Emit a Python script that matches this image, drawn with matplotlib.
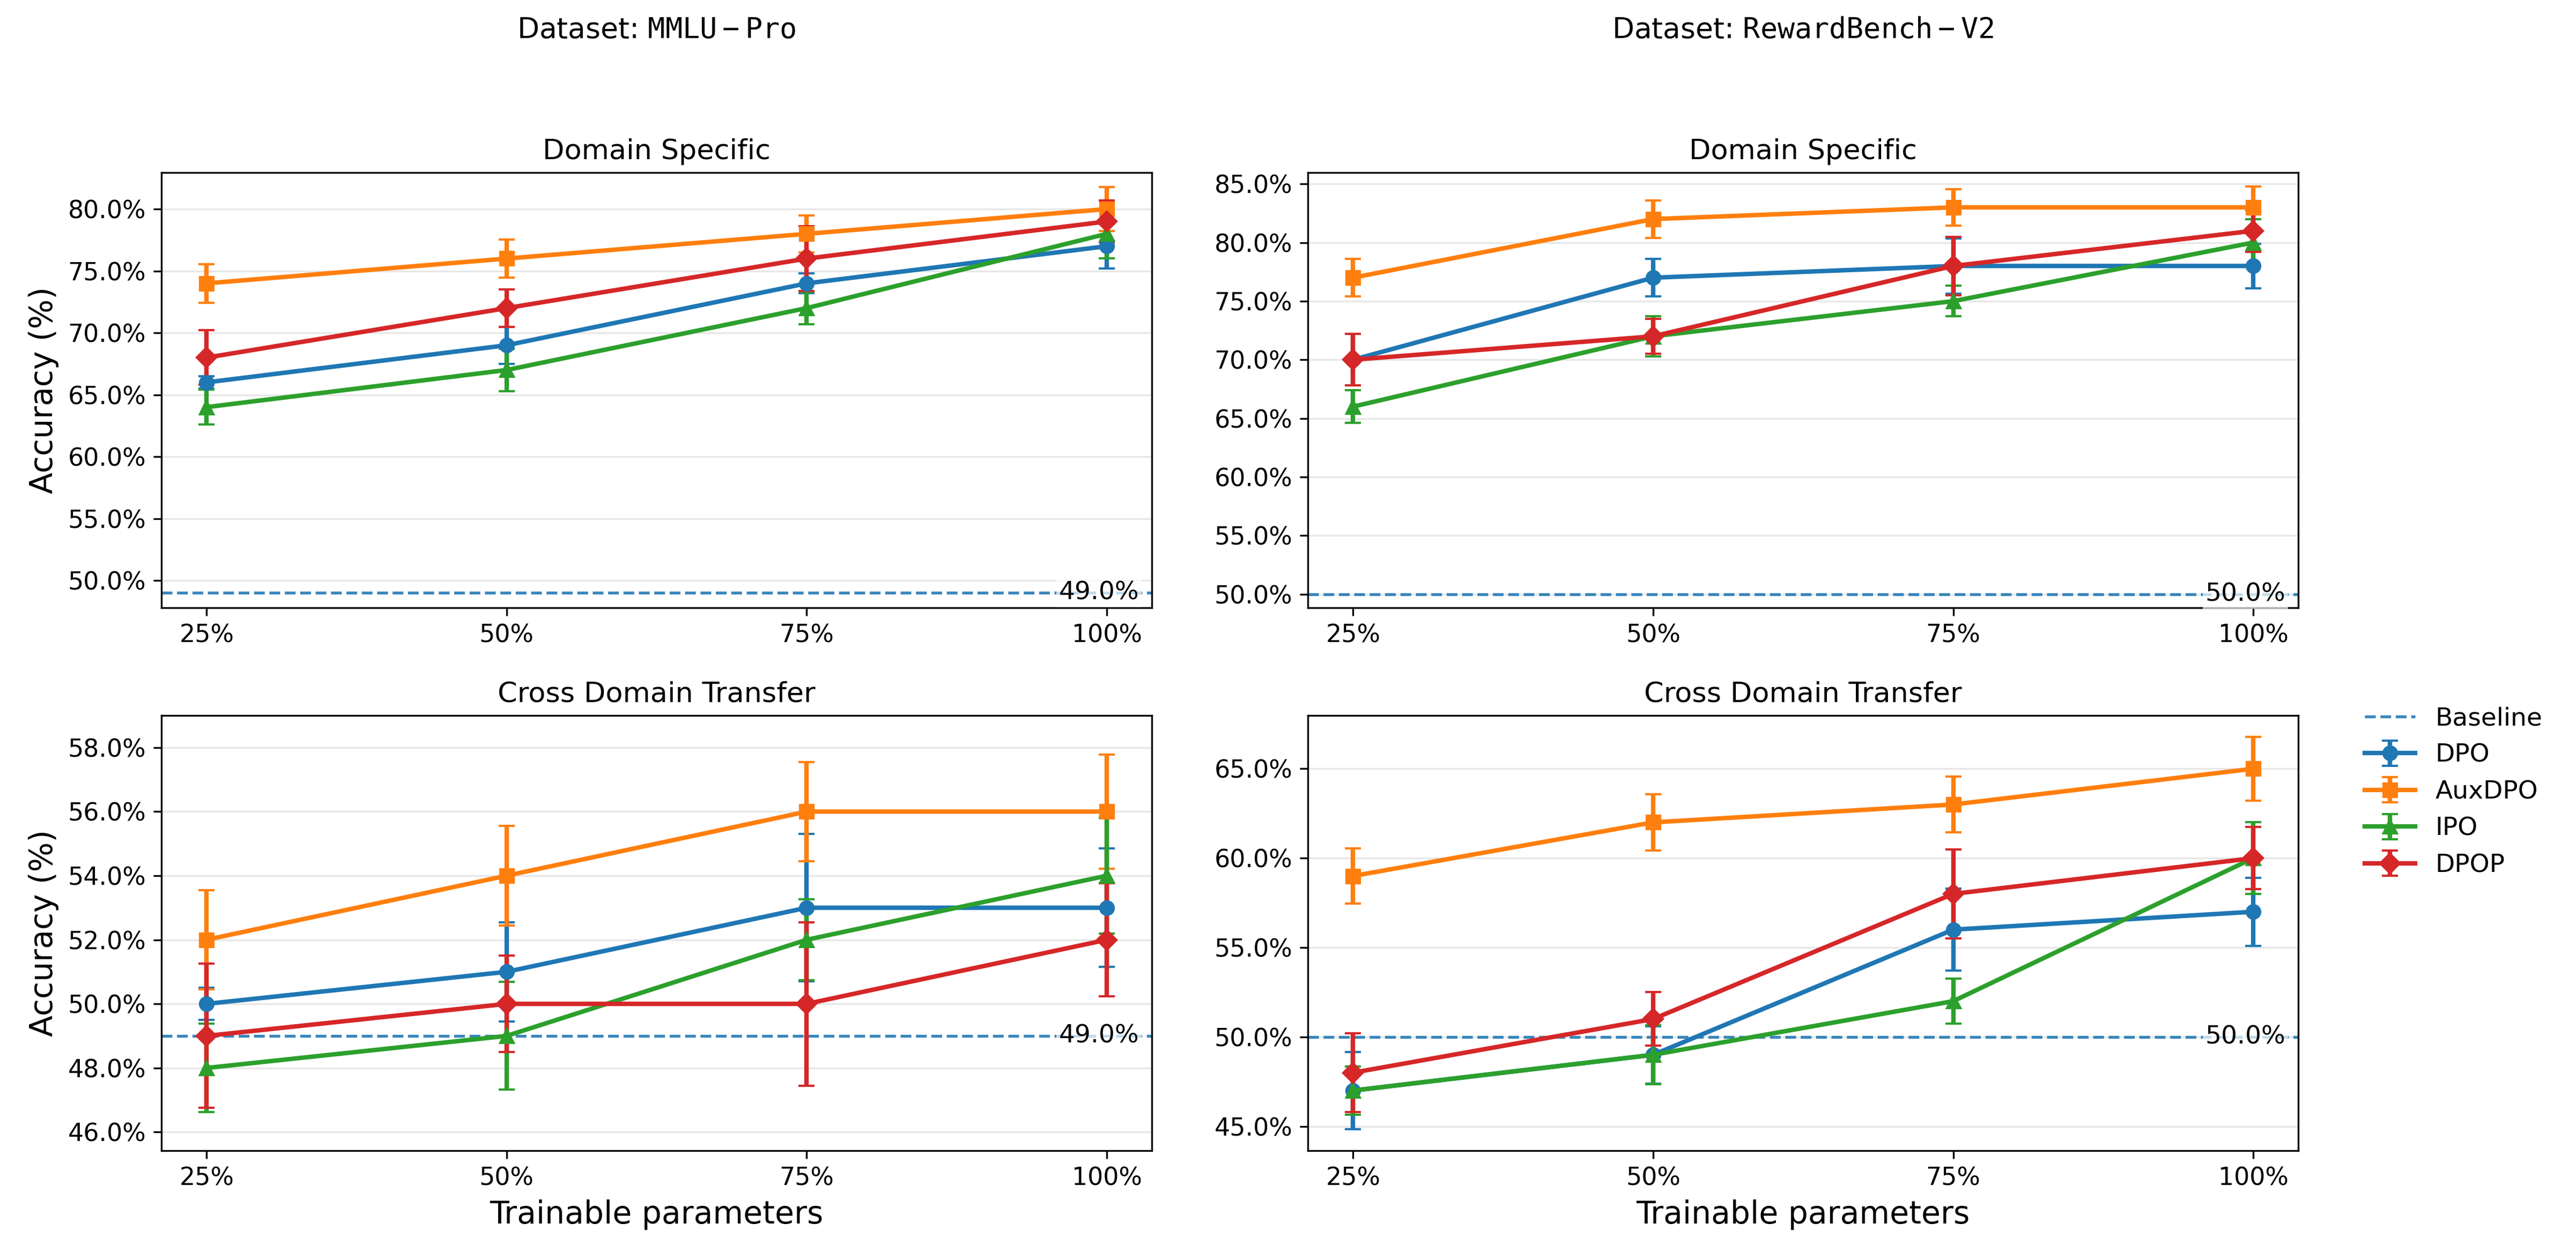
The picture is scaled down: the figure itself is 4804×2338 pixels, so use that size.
import numpy as np
import matplotlib.pyplot as plt
import matplotlib.transforms as mtransforms
from matplotlib.ticker import PercentFormatter

# Datos
x_labels = ['25%', '50%', '75%', '100%']
methods = ['DPO', 'AuxDPO', 'IPO', 'DPOP']
colors = ['#1f77b4', '#ff7f0e', '#2ca02c', '#d62728']
markers = ['o', 's', '^', 'D']

datasets = [r'Dataset: $\mathtt{MMLU-Pro}$', r'Dataset: $\mathtt{RewardBench-V2}$']
baselines = [49.0, 50.0]
row_titles = ['Domain Specific', 'Cross Domain Transfer']

# MMLU-Pro, domain specific
mmlu_ds_mean = [[66, 69, 74, 77], [74, 76, 78, 80], [64, 67, 72, 78], [68, 72, 76, 79]]
mmlu_ds_err = [[0.5, 1.5, 0.8, 1.8], [1.55, 1.55, 1.5, 1.78], [1.4, 1.7, 1.3, 2.0], [2.2, 1.5, 2.6, 1.7]]
# RewardBench-V2, domain specific
rb_ds_mean = [[70, 77, 78, 78], [77, 82, 83, 83], [66, 72, 75, 80], [70, 72, 78, 81]]
rb_ds_err = [[2.2, 1.6, 2.35, 1.9], [1.6, 1.6, 1.55, 1.8], [1.4, 1.7, 1.3, 2.0], [2.2, 1.5, 2.5, 1.78]]
# MMLU-Pro, cross domain
mmlu_cd_mean = [[50, 51, 53, 53], [52, 54, 56, 56], [48, 49, 52, 54], [49, 50, 50, 52]]
mmlu_cd_err = [[0.5, 1.55, 2.3, 1.85], [1.55, 1.55, 1.55, 1.78], [1.38, 1.68, 1.27, 1.8], [2.25, 1.5, 2.55, 1.77]]
# RewardBench-V2, cross domain
rb_cd_mean = [[47, 49, 56, 57], [59, 62, 63, 65], [47, 49, 52, 60], [48, 51, 58, 60]]
rb_cd_err = [[2.15, 1.6, 2.3, 1.9], [1.55, 1.56, 1.55, 1.78], [1.35, 1.65, 1.25, 2.0], [2.2, 1.5, 2.5, 1.73]]

means = [[mmlu_ds_mean, rb_ds_mean], [mmlu_cd_mean, rb_cd_mean]]
errs = [[mmlu_ds_err, rb_ds_err], [mmlu_cd_err, rb_cd_err]]
ylims = [[(47.8, 82.95), (48.85, 85.97)], [(45.42, 59.0), (43.64, 67.98)]]

x = np.arange(len(x_labels))

fig, axes = plt.subplots(2, 2, figsize=(4804 / 300, 2338 / 300), dpi=300)
fig.subplots_adjust(left=0.0627, right=0.8922, bottom=0.0817, top=0.8623,
                    wspace=0.1577, hspace=0.2476)

for r in range(2):
    for c in range(2):
        ax = axes[r, c]
        base = baselines[c]
        # linea base
        ax.axhline(base, ls='--', lw=1.3, color='#1f77b4', alpha=0.88, label='Baseline')
        for i, m in enumerate(methods):
            ax.errorbar(x, means[r][c][i], yerr=errs[r][c][i], label=m, color=colors[i],
                        marker=markers[i], markersize=6, lw=2, capsize=3.5)
        trans = mtransforms.blended_transform_factory(ax.transAxes, ax.transData)
        ax.text(0.987, base, f'{base:.1f}%', transform=trans, ha='right', va='center',
                fontsize=11.3, bbox=dict(boxstyle='square,pad=0.1', fc='white', ec='none', alpha=0.7))
        ax.set_title(row_titles[r], fontsize=12.6)
        ax.set_xticks(x)
        ax.set_xticklabels(x_labels)
        ax.set_ylim(*ylims[r][c])
        ax.yaxis.set_major_formatter(PercentFormatter(decimals=1))
        ax.tick_params(labelsize=11)
        ax.grid(axis='y', alpha=0.3)
        if c == 0:
            ax.set_ylabel('Accuracy (%)', fontsize=14)
        if r == 1:
            ax.set_xlabel('Trainable parameters', fontsize=14)

fig.text(0.2549, 0.976, datasets[0], ha='center', va='center', fontsize=12.8)
fig.text(0.6999, 0.976, datasets[1], ha='center', va='center', fontsize=12.8)

handles, labels = axes[1, 1].get_legend_handles_labels()
fig.legend(handles, labels, loc='center left', bbox_to_anchor=(0.914, 0.368),
           frameon=False, fontsize=11.3, borderaxespad=0)

plt.savefig('out.png', dpi=300)
